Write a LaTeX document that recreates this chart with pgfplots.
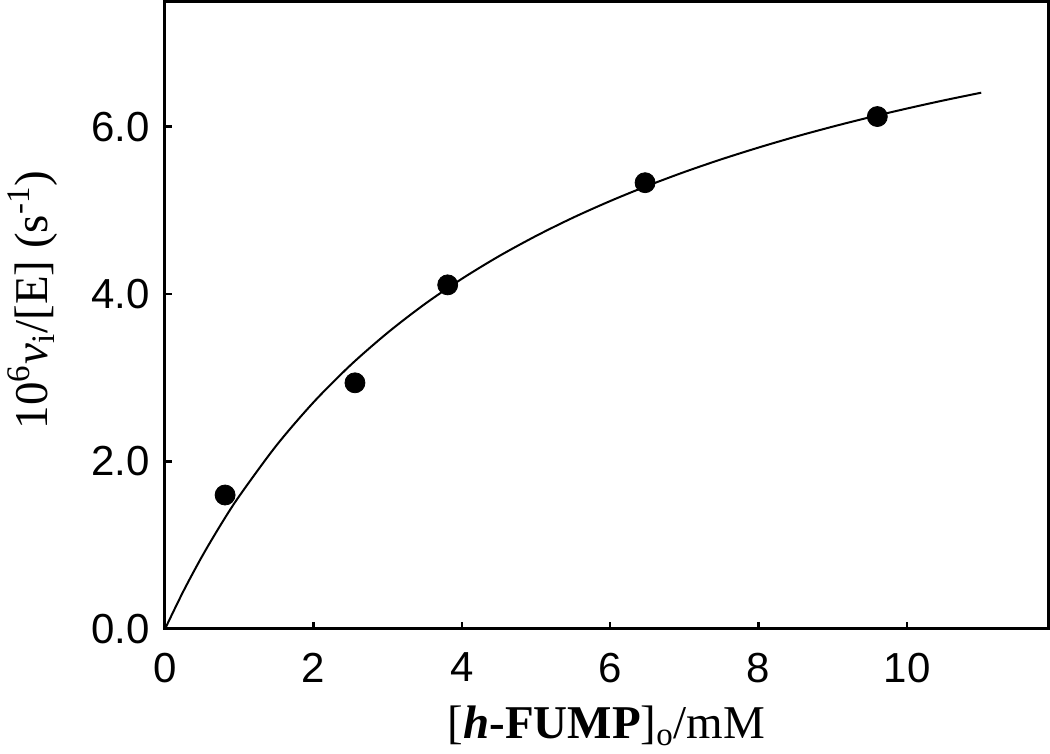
\documentclass[border=0pt]{standalone}
\usepackage{fontspec}
\setmainfont{Liberation Serif}
\setsansfont{Liberation Sans}
\usepackage{pgfplots}
\pgfplotsset{compat=1.18}
\begin{document}
\begin{tikzpicture}
\begin{axis}[
  scale only axis,
  width=441.5pt, height=314pt,
  xmin=0, xmax=11.9, ymin=0, ymax=7.5,
  xtick={0,2,4,6,8,10},
  ytick={0,2,4,6},
  xtick pos=bottom, ytick pos=left,
  tick align=inside,
  major tick length=3.5pt,
  axis line style={line width=1.5pt},
  every tick/.style={black, line width=1.2pt},
  /pgf/number format/assume math mode=true,
  ticklabel style={font=\fontsize{21}{25}\sffamily\selectfont},
  yticklabel style={xshift=-4pt, /pgf/number format/.cd, fixed, fixed zerofill, precision=1},
  xticklabel style={yshift=-8.5pt},
  xlabel={[\textbf{\textit{h}}\textbf{-FUMP}]\textsubscript{o}/mM},
  ylabel={10\textsuperscript{6}\textit{v}\textsubscript{i}/[E] (s\textsuperscript{-1})},
  label style={font=\fontsize{23.5}{27}\selectfont},
  xlabel style={at={(axis description cs:0.5,-0.1736)}, anchor=base},
  ylabel style={at={(axis description cs:-0.150,0.524)}, anchor=center, rotate=0},
  clip=false,
]
\addplot[black, line width=1pt, smooth, no marks] coordinates {
(0,0) (0.25,0.455) (0.5,0.868) (0.75,1.243) (1,1.586) (1.5,2.190) (2,2.706)
(2.5,3.151) (3,3.538) (3.5,3.880) (4,4.182) (4.5,4.452) (5,4.694) (5.5,4.913)
(6,5.111) (6.5,5.292) (7,5.458) (7.5,5.610) (8,5.750) (8.5,5.880) (9,6.000)
(9.5,6.112) (10,6.216) (10.5,6.314) (11,6.405)
};
\addplot[only marks, mark=*, mark size=5pt, black] coordinates {
(0.81,1.60) (2.56,2.94) (3.81,4.11) (6.47,5.33) (9.60,6.12)
};
\end{axis}
\pgfresetboundingbox
\path (-82.5pt,-62.5pt) rectangle (442.5pt,314.5pt);
\end{tikzpicture}
\end{document}
